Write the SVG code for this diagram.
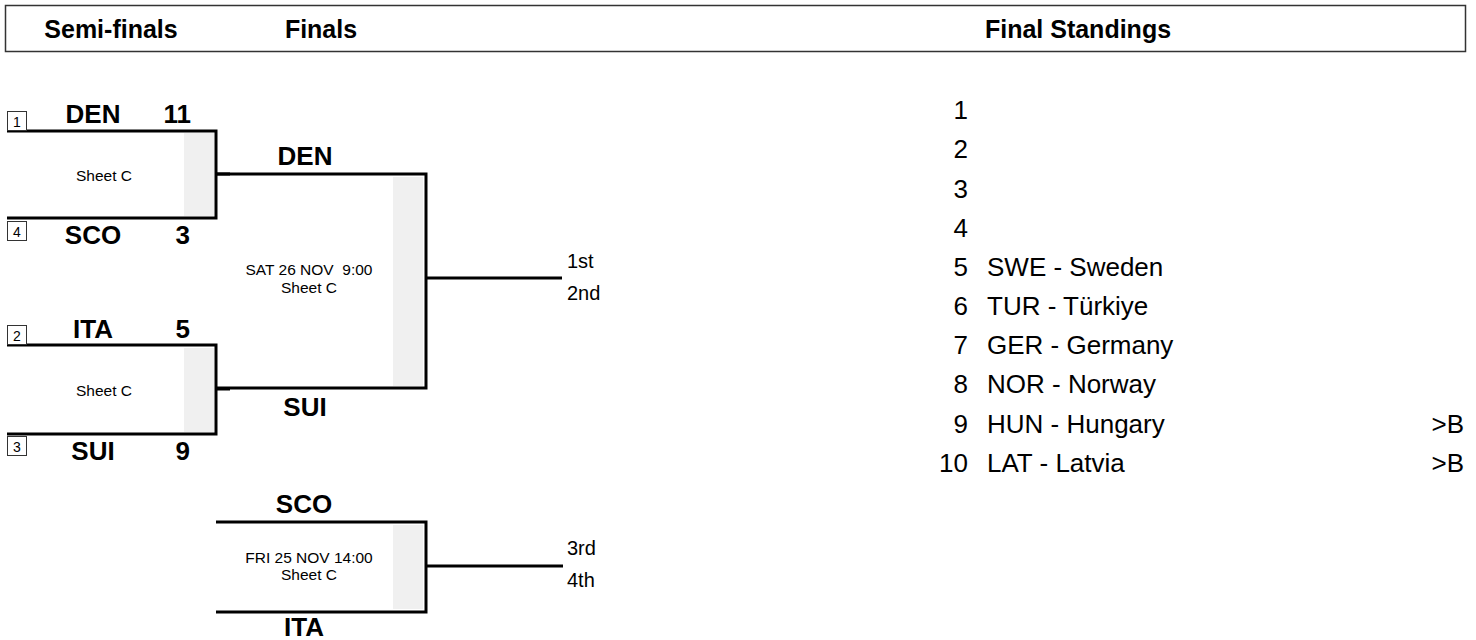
<svg xmlns="http://www.w3.org/2000/svg" width="1476" height="640" viewBox="0 0 1476 640">
<style>
text{font-family:"Liberation Sans",Arial,sans-serif;fill:#000}
.hd{font-size:25px;font-weight:bold;text-anchor:middle}
.tm{font-size:26px;font-weight:bold;text-anchor:middle}
.sc{font-size:26px;font-weight:bold;text-anchor:end}
.sd{font-size:14px;text-anchor:middle}
.sh{font-size:15.5px;text-anchor:middle}
.pl{font-size:20px}
.st{font-size:26px}
.stn{font-size:26px;text-anchor:end}
.br{fill:none;stroke:#000;stroke-width:3}
.gr{fill:#f0f0f0}
.box{fill:#fff;stroke:#333;stroke-width:1}
.cn{fill:none;stroke:#000;stroke-width:3}
</style>
<g id="header">
<rect x="5.5" y="5.5" width="1460" height="46" fill="#fff" stroke="#333" stroke-width="1.5"/>
<text class="hd" x="111" y="38">Semi-finals</text>
<text class="hd" x="321" y="38">Finals</text>
<text class="hd" x="1078" y="38">Final Standings</text>
</g>
<g id="semi1">
<rect class="gr" x="184" y="133" width="30" height="83"/>
<path class="br" d="M7,131 H216 V218 H7"/>
<rect class="box" x="7.5" y="111.5" width="19" height="19"/>
<text class="sd" x="17" y="127">1</text>
<rect class="box" x="7.5" y="221.5" width="19" height="19"/>
<text class="sd" x="17" y="237">4</text>
<text class="tm" x="93" y="123">DEN</text>
<text class="sc" x="191" y="123">11</text>
<text class="tm" x="93" y="244">SCO</text>
<text class="sc" x="190" y="244">3</text>
<text class="sh" x="104" y="181">Sheet C</text>
</g>
<g id="semi2">
<rect class="gr" x="184" y="348" width="30" height="84"/>
<path class="br" d="M7,345 H216 V434 H7"/>
<rect class="box" x="7.5" y="325.5" width="19" height="19"/>
<text class="sd" x="17" y="341">2</text>
<rect class="box" x="7.5" y="436.5" width="19" height="19"/>
<text class="sd" x="17" y="452">3</text>
<text class="tm" x="93" y="338">ITA</text>
<text class="sc" x="190" y="338">5</text>
<text class="tm" x="93" y="460">SUI</text>
<text class="sc" x="190" y="460">9</text>
<text class="sh" x="104" y="396">Sheet C</text>
</g>
<g id="final">
<rect class="gr" x="393" y="177" width="30" height="209"/>
<path class="br" d="M216,174 H426 V388 H216"/>
<text class="tm" x="305" y="165">DEN</text>
<text class="tm" x="305" y="416">SUI</text>
<text class="sh" x="309" y="275" xml:space="preserve">SAT 26 NOV  9:00</text>
<text class="sh" x="309" y="293">Sheet C</text>
<text class="pl" x="567" y="268">1st</text>
<text class="pl" x="567" y="300">2nd</text>
</g>
<g id="bronze">
<rect class="gr" x="393" y="525" width="30" height="84"/>
<path class="br" d="M216,522 H426 V612 H216"/>
<text class="tm" x="304" y="513">SCO</text>
<text class="tm" x="304" y="636">ITA</text>
<text class="sh" x="309" y="563">FRI 25 NOV 14:00</text>
<text class="sh" x="309" y="580">Sheet C</text>
<text class="pl" x="567" y="555">3rd</text>
<text class="pl" x="567" y="587">4th</text>
</g>
<g id="connectors">
<line class="cn" x1="216" y1="174" x2="230" y2="174"/>
<line class="cn" x1="216" y1="389" x2="230" y2="389"/>
<line class="cn" x1="426" y1="278" x2="562" y2="278"/>
<line class="cn" x1="426" y1="566" x2="563" y2="566"/>
</g>
<g id="standings">
<text class="stn" x="968" y="119">1</text>
<text class="stn" x="968" y="158">2</text>
<text class="stn" x="968" y="198">3</text>
<text class="stn" x="968" y="237">4</text>
<text class="stn" x="968" y="276">5</text>
<text class="st" x="987" y="276">SWE - Sweden</text>
<text class="stn" x="968" y="315">6</text>
<text class="st" x="987" y="315">TUR - Türkiye</text>
<text class="stn" x="968" y="354">7</text>
<text class="st" x="987" y="354">GER - Germany</text>
<text class="stn" x="968" y="393">8</text>
<text class="st" x="987" y="393">NOR - Norway</text>
<text class="stn" x="968" y="433">9</text>
<text class="st" x="987" y="433">HUN - Hungary</text>
<text class="st" x="1464" y="433" text-anchor="end">&gt;B</text>
<text class="stn" x="968" y="472">10</text>
<text class="st" x="987" y="472">LAT - Latvia</text>
<text class="st" x="1464" y="472" text-anchor="end">&gt;B</text>
</g>
</svg>
